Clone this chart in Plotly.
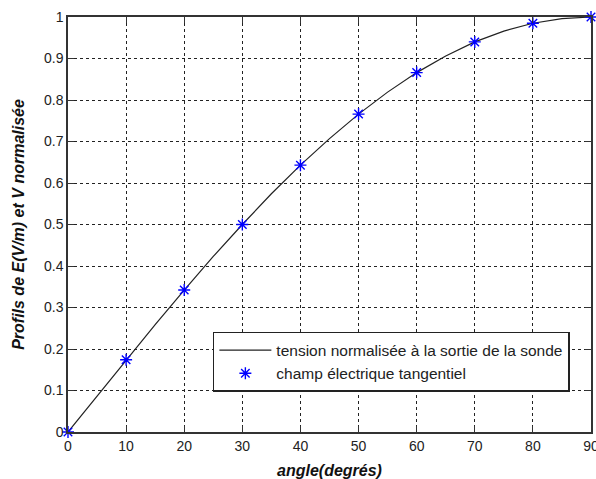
import plotly.graph_objects as go

# Line (tension normalisée)
line_angle = [0, 5, 10, 15, 20, 25, 30, 35, 40, 45, 50, 55, 60, 65, 70, 75, 80, 85, 90]
line_value = [0.0, 0.087, 0.174, 0.259, 0.342, 0.423, 0.500, 0.574, 0.643, 0.707,
              0.766, 0.819, 0.866, 0.906, 0.940, 0.966, 0.985, 0.996, 1.0]

# Stars (champ électrique tangentiel)
star_angle = [0, 10, 20, 30, 40, 50, 60, 70, 80, 90]
star_value = [0.0, 0.174, 0.342, 0.500, 0.643, 0.766, 0.866, 0.940, 0.985, 1.0]

x_ticks = [0, 10, 20, 30, 40, 50, 60, 70, 80, 90]
y_ticks = [0, 0.1, 0.2, 0.3, 0.4, 0.5, 0.6, 0.7, 0.8, 0.9, 1]
y_tick_labels = ["0", "0.1", "0.2", "0.3", "0.4", "0.5", "0.6", "0.7", "0.8", "0.9", "1"]

FONT = "Liberation Sans, Arial, sans-serif"

fig = go.Figure()
fig.add_trace(go.Scatter(
    x=line_angle, y=line_value, mode="lines",
    line=dict(color="#222222", width=1.2),
    name="tension normalisée à la sortie de la sonde",
))
fig.add_trace(go.Scatter(
    x=star_angle, y=star_value, mode="markers",
    marker=dict(symbol="asterisk-open", size=10, color="#0000ff",
                line=dict(color="#0000ff", width=1.4)),
    name="champ électrique tangentiel", cliponaxis=False,
))

axis_common = dict(
    showline=True, linecolor="#333333", linewidth=1.5, mirror="ticks",
    ticks="inside", ticklen=6, tickcolor="#333333",
    showgrid=True, gridcolor="#222222", griddash="3px,3px", gridwidth=1.2,
    zeroline=False, automargin=False, ticklabeloverflow="allow",
    tickfont=dict(family=FONT, size=14, color="#222222"),
)

fig.update_xaxes(
    range=[0, 90], tickvals=x_ticks,
    title=dict(text="<b><i>angle(degrés)</i></b>",
               font=dict(family=FONT, size=16, color="#111111")),
    **axis_common,
)
fig.update_yaxes(
    range=[0, 1], tickvals=y_ticks, ticktext=y_tick_labels,
    title=dict(text="<b><i>Profils de E(V/m) et V normalisée</i></b>",
               font=dict(family=FONT, size=16, color="#111111")),
    **axis_common,
)

fig.update_layout(
    width=596, height=479,
    margin=dict(l=68, r=5, t=17, b=47),
    paper_bgcolor="white", plot_bgcolor="white",
    showlegend=True,
    legend=dict(
        x=0.277, y=0.241, xanchor="left", yanchor="top",
        bgcolor="white", bordercolor="#222222", borderwidth=1.5,
        font=dict(family=FONT, size=15.5, color="#222222"),
        tracegroupgap=0, itemwidth=52,
    ),
)

fig.write_html(
    "out.html",
    config={"displayModeBar": False},
    post_script="document.body.style.margin='0';document.body.style.overflow='hidden';"
                "document.documentElement.style.overflow='hidden';",
)
